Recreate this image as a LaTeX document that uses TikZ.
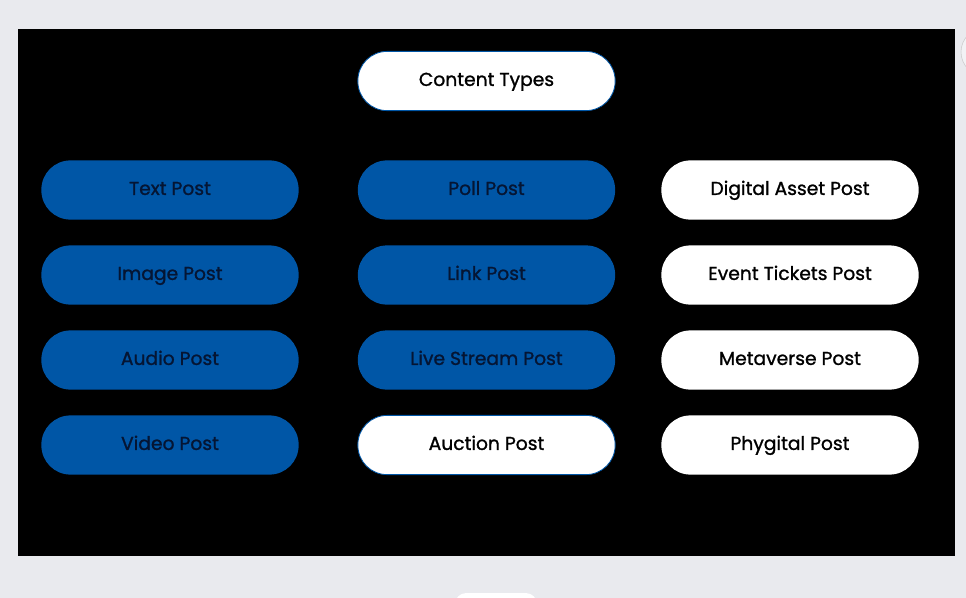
\documentclass[tikz,border=0pt]{standalone}
\usepackage{fontspec}
\setmainfont{Poppins}
\newfontfamily\pillfont{Poppins}[FakeBold=1.2]
\definecolor{pageGrey}{HTML}{E9EAEE}
\definecolor{postBlue}{HTML}{0056A6}
\definecolor{postInk}{HTML}{051533}
\tikzset{
  pill/.style={rectangle, rounded corners=7.3mm, minimum width=6.43cm,
    minimum height=1.48cm, text height=9.6pt, text depth=2.6pt,
    font=\pillfont\fontsize{13.3}{15}\selectfont},
  bluepill/.style={pill, fill=postBlue, text=postInk},
  whitepill/.style={pill, fill=white, text=black},
  edgedpill/.style={whitepill, draw=postBlue, line width=0.6pt}
}
\begin{document}
\begin{tikzpicture}[x=0.025cm,y=-0.025cm]
      \fill[pageGrey] (0,0) rectangle (966,598);
      \useasboundingbox (0,0) rectangle (966,598);
      \fill[black] (18,29) rectangle (955,556);
      % faint page controls at the edges
      \begin{scope}
        \clip (0,0) rectangle (966,598);
        \draw[gray!40, fill=pageGrey!60] (985,52) circle (24);
        \fill[white, rounded corners=8] (455,593) rectangle (537,610);
      \end{scope}
      \node[edgedpill] (types) at (486.5,81) {Content Types};
      % first column
      \node[bluepill] (text) at (170,190) {Text Post};
      \node[bluepill] (image) at (170,275) {Image Post};
      \node[bluepill] (audio) at (170,360) {Audio Post};
      \node[bluepill] (video) at (170,445) {Video Post};
      % second column
      \node[bluepill] (poll) at (486.5,190) {Poll Post};
      \node[bluepill] (link) at (486.5,275) {Link Post};
      \node[bluepill] (live) at (486.5,360) {Live Stream Post};
      \node[edgedpill] (auction) at (486.5,445) {Auction Post};
      % third column
      \node[whitepill] (asset) at (790,190) {Digital Asset Post};
      \node[whitepill] (tickets) at (790,275) {Event Tickets Post};
      \node[whitepill] (metaverse) at (790,360) {Metaverse Post};
      \node[whitepill] (phygital) at (790,445) {Phygital Post};
    \end{tikzpicture}
\end{document}
